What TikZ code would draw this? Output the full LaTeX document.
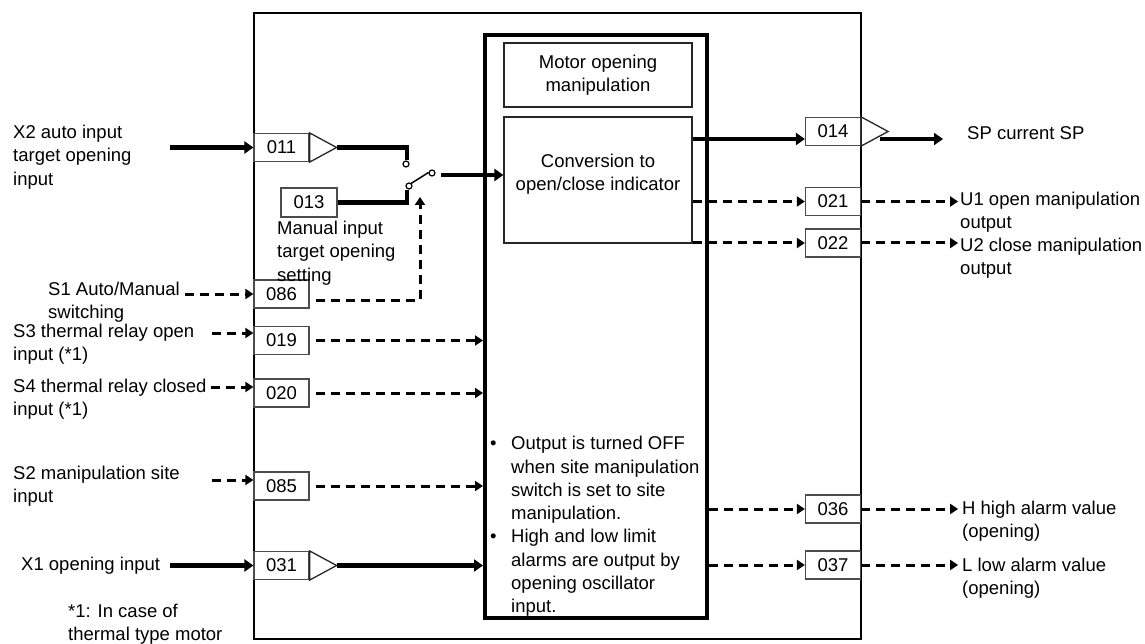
\documentclass[tikz,border=0pt]{standalone}
\usepackage{fontspec}
\setmainfont{Liberation Sans}
\usetikzlibrary{arrows.meta,calc}
\newcommand{\dfont}{\fontsize{18.5}{23.3}\selectfont}
\begin{document}
\begin{tikzpicture}[x=1pt, y=-1pt, font=\dfont,
	numbox/.style={draw=black!70, line width=1.2pt, fill=white, minimum width=55pt, minimum height=28pt, inner sep=0pt},
	blockbox/.style={draw=black!85, line width=1.2pt, inner sep=0pt},
	lbl/.style={align=left, anchor=west, inner sep=0pt},
	buf/.style={draw=black!85, line width=1.3pt, fill=white},
	thickline/.style={line width=4.5pt},
	solidarr/.style={line width=4.5pt, -{Triangle[length=9pt,width=12pt]}},
	dasharr/.style={line width=3pt, dash pattern=on 9pt off 6pt, -{Triangle[length=8pt,width=10pt]}},
	contact/.style={draw=black, line width=1.2pt, fill=white}]
	\useasboundingbox (0,0) rectangle (1145,644);
	\node[draw, line width=1.8pt, minimum width=607pt, minimum height=626pt, inner sep=0pt] (frame) at (557.5,326) {};
	\node[draw, line width=4pt, minimum width=222pt, minimum height=583pt, inner sep=0pt] (motor) at (596,326.5) {};
	\node[blockbox, minimum width=188pt, minimum height=64pt, align=center] (mop) at (598,75) {Motor opening\\manipulation};
	\node[blockbox, minimum width=188pt, minimum height=126pt] (conv) at (598,180) {};
	\node[align=center, inner sep=0pt] (convtxt) at (598,174) {Conversion to\\open/close indicator};
	\foreach \n/\y in {011/147.5, 086/294, 019/340.5, 020/393, 085/486, 031/565.5} {\node[numbox] (b\n) at (281.5,\y) {\n};}
	\foreach \n/\y in {014/131.5, 021/201.5, 022/243, 036/509, 037/565} {\node[numbox] (b\n) at (833,\y) {\n};}
	\node[numbox, minimum width=56pt, minimum height=29pt] (b013) at (309,202.5) {013};
	\foreach \n in {011,031,014} {\draw[buf] (b\n.north east) -- ($(b\n.east)+(27,0)$) coordinate (t\n) -- (b\n.south east) -- cycle;}
	% auto/manual switch
	\coordinate (swA) at (406,164);
	\coordinate (swP) at (409,186);
	\coordinate (swB) at (432,173);
	\coordinate (swOut) at (441,175);
	\draw[thickline] (t011) -| ($(swA)+(1,-4)$);
	\draw[thickline] (b013.east) -| ($(swP)+(-2,4)$);
	\draw[line width=1.5pt] ($(swP)+(2,-2.5)$) -- ($(swB)+(-3.5,-0.5)$);
	\foreach \c in {swA,swP,swB} {\draw[contact] (\c) circle (3pt);}
	\draw[solidarr] (swOut) -- (swOut -| conv.west);
	\draw[dasharr] ($(b086.east)+(6,6)$) -| ($(swP)+(11,11)$);
	\node[lbl] (lman) at (277,253) {Manual input\\target opening\\setting};
	% inputs
	\node[lbl] (lx2) at (13,157) {X2 auto input\\target opening\\input};
	\node[lbl] (ls1) at (48,302) {S1 Auto/Manual\\switching};
	\node[lbl] (ls3) at (13,344.5) {S3 thermal relay open\\input (*1)};
	\node[lbl] (ls4) at (13,399) {S4 thermal relay closed\\input (*1)};
	\node[lbl] (ls2) at (13,486.5) {S2 manipulation site\\input};
	\node[lbl] (lx1) at (21,565.5) {X1 opening input};
	\node[lbl] (lnote) at (68,624.5) {*1: In case of\\thermal type motor};
	\coordinate (ix2) at (170,147.5);
	\coordinate (is1) at (185,294);
	\coordinate (is3) at (212,333);
	\coordinate (is4) at (211,387);
	\coordinate (is2) at (212,480);
	\coordinate (ix1) at (170,565.5);
	\draw[solidarr] (ix2) -- (b011.west);
	\draw[dasharr] (is1) -- (b086.west);
	\draw[dasharr] (is3) -- (is3 -| b019.west);
	\draw[dasharr] (is4) -- (is4 -| b020.west);
	\draw[dasharr] (is2) -- (is2 -| b085.west);
	\draw[solidarr] (ix1) -- (b031.west);
	\foreach \n in {019,020,085} {\draw[dasharr] ($(b\n.east)+(6,0)$) -- (b\n.east -| motor.west);}
	\draw[solidarr] (t031) -- (t031 -| motor.west);
	% notes in the block
	\node[lbl] (notes) at (490,526.5) {\makebox[21pt][l]{\textbullet}Output is turned OFF\\\hspace*{21pt}when site manipulation\\\hspace*{21pt}switch is set to site\\\hspace*{21pt}manipulation.\\\makebox[21pt][l]{\textbullet}High and low limit\\\hspace*{21pt}alarms are output by\\\hspace*{21pt}opening oscillator\\\hspace*{21pt}input.};
	% outputs
	\draw[solidarr] ($(conv.east |- b014.west)+(0,7.5)$) -- ($(b014.west)+(0,7.5)$);
	\draw[dasharr] (conv.east |- b021.west) -- (b021.west);
	\draw[dasharr] (conv.east |- b022.west) -- (b022.west);
	\draw[dasharr] (motor.east |- b036.west) -- (b036.west);
	\draw[dasharr] (motor.east |- b037.west) -- (b037.west);
	\coordinate (osp) at (943,139);
	\draw[solidarr] ($(t014)+(-8,7.5)$) -- (osp);
	\foreach \n in {021,022,036,037} {\draw[dasharr] (b\n.east) -- ++(97,0) coordinate (o\n);}
	\node[lbl] (lsp) at (967,133) {SP current SP};
	\node[lbl] (lu1) at (960,212.5) {U1 open manipulation\\output};
	\node[lbl] (lu2) at (960,258) {U2 close manipulation\\output};
	\node[lbl] (lh) at (962,521.5) {H high alarm value\\(opening)};
	\node[lbl] (ll) at (962,578.5) {L low alarm value\\(opening)};
\end{tikzpicture}
\end{document}
